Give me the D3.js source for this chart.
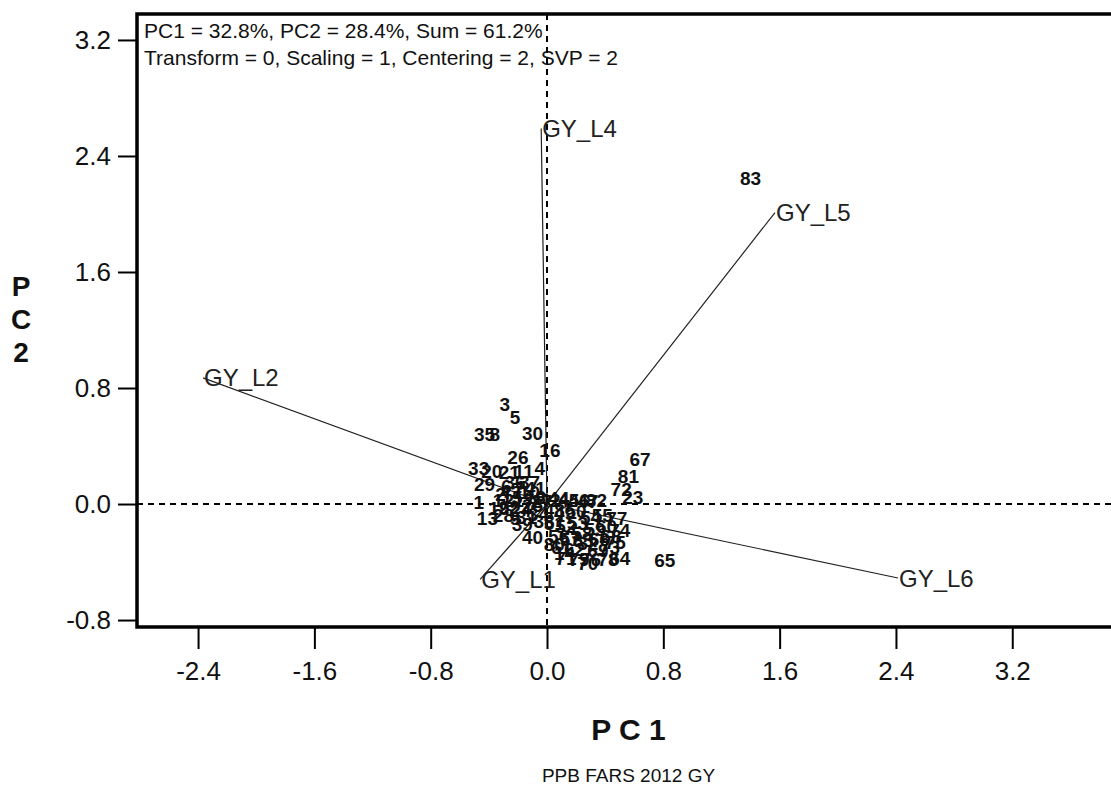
<!DOCTYPE html>
<html>
<head>
<meta charset="utf-8">
<script src="https://cdn.jsdelivr.net/npm/d3@7"></script>
<style>
  body { margin: 0; background: #fff; }
  svg { font-family: Arial, "Liberation Sans", sans-serif; }
</style>
</head>
<body>
<script>
// GGE biplot data: environments (vectors) and genotypes (labels)
var envNames = ["GY_L1", "GY_L2", "GY_L4", "GY_L5", "GY_L6"];
var envPC1 = [-0.46, -2.366, -0.04, 1.568, 2.414];
var envPC2 = [-0.52, 0.87, 2.59, 2.01, -0.51];

var genoNames = ["1","2","3","4","5","6","7","8","9","10",
  "11","12","13","14","15","16","17","18","19","20",
  "21","22","23","24","25","26","27","28","29","30",
  "31","32","33","34","35","36","37","38","39","40",
  "41","42","43","44","45","46","47","48","49","50",
  "51","52","53","54","55","56","57","58","59","60",
  "61","62","63","64","65","66","67","68","69","70",
  "71","72","73","74","75","76","77","78","79","80",
  "81","82","83"];
var genoPC1 = [-0.47, -0.32, -0.29, -0.05, -0.22, -0.28, -0.20, -0.36, -0.22, -0.12,
  -0.16, -0.30, -0.41, 0.12, -0.24, 0.02, -0.16, -0.08, -0.33, -0.38,
  -0.26, -0.26, 0.59, -0.18, -0.10, -0.20, -0.04, -0.30, -0.43, -0.10,
  -0.14, 0.28, -0.47, -0.06, -0.43, -0.22, -0.12, -0.02, -0.17, -0.10,
  -0.08, 0.02, -0.25, 0.08, 0.15, 0.22, 0.28, 0.05, 0.12, 0.20,
  0.05, 0.13, 0.21, 0.30, 0.38, 0.08, 0.16, 0.24, 0.33, 0.41,
  0.10, 0.19, 0.25, 0.50, 0.81, 0.36, 0.64, 0.44, 0.35, 0.28,
  0.13, 0.51, 0.43, 0.50, 0.47, 0.30, 0.48, 0.42, 0.22, 0.05,
  0.56, 0.34, 1.40];
var genoPC2 = [0.01, 0.07, 0.69, 0.25, 0.60, 0.12, 0.10, 0.48, -0.10, 0.08,
  0.23, 0.03, -0.10, -0.34, 0.05, 0.37, 0.03, 0.05, -0.03, 0.23,
  0.22, -0.02, 0.05, -0.04, -0.01, 0.32, 0.02, -0.08, 0.14, 0.49,
  -0.09, -0.27, 0.25, -0.07, 0.48, 0.15, 0.15, -0.12, -0.14, -0.23,
  0.11, 0.03, 0.08, 0.04, 0.03, 0.03, 0.02, -0.04, -0.06, -0.05,
  -0.13, -0.15, -0.13, -0.09, -0.08, -0.22, -0.24, -0.20, -0.17, -0.15,
  -0.30, -0.31, -0.25, -0.37, -0.39, -0.24, 0.31, -0.22, -0.32, -0.41,
  -0.37, 0.10, -0.30, -0.18, -0.26, -0.38, -0.10, -0.38, -0.38, -0.28,
  0.19, 0.03, 2.25];

var tickValues = [-2.4, -1.6, -0.8, 0.0, 0.8, 1.6, 2.4, 3.2];
var yTickValues = [-0.8, 0.0, 0.8, 1.6, 2.4, 3.2];
var headerLines = ["PC1 = 32.8%, PC2 = 28.4%, Sum = 61.2%",
  "Transform = 0, Scaling = 1, Centering = 2, SVP = 2"];

var width = 1111, height = 788;
var plotLeft = 137, plotRight = 1120, plotTop = 14, plotBottom = 627;

var svg = d3.select("body").append("svg")
    .attr("width", width)
    .attr("height", height);

svg.append("rect").attr("width", width).attr("height", height).attr("fill", "#fff");

// same units on both axes
var x = d3.scaleLinear().domain([-2.820, 3.941]).range([plotLeft, plotRight]);
var y = d3.scaleLinear().domain([-0.848, 3.379]).range([plotBottom, plotTop]);

// plain hyphen for negatives, like the original
var fmt = function(d) { return d3.format(".1f")(d).replace("\u2212", "-"); };

// dashed reference lines through origin
svg.append("line")
    .attr("x1", x(0)).attr("x2", x(0))
    .attr("y1", plotTop).attr("y2", plotBottom)
    .attr("stroke", "#000").attr("stroke-width", 2)
    .attr("stroke-dasharray", "6,5");
svg.append("line")
    .attr("x1", plotLeft).attr("x2", plotRight)
    .attr("y1", y(0)).attr("y2", y(0))
    .attr("stroke", "#000").attr("stroke-width", 2)
    .attr("stroke-dasharray", "6,5");

// environment vectors
var envData = envNames.map(function(n, i) { return {name: n, pc1: envPC1[i], pc2: envPC2[i]}; });
svg.selectAll(".env")
    .data(envData)
    .enter()
    .append("line")
    .attr("class", "env")
    .attr("x1", x(0)).attr("y1", y(0))
    .attr("x2", function(d) { return x(d.pc1); })
    .attr("y2", function(d) { return y(d.pc2); })
    .attr("stroke", "#222").attr("stroke-width", 1.2);

svg.selectAll(".envLabel")
    .data(envData)
    .enter()
    .append("text")
    .attr("class", "envLabel")
    .attr("x", function(d) { return x(d.pc1) + 1; })
    .attr("y", function(d) { return y(d.pc2); })
    .attr("dy", "0.36em")
    .attr("font-size", 24)
    .attr("fill", "#222")
    .text(function(d) { return d.name; });

// genotype labels
var genoData = genoNames.map(function(n, i) { return {name: n, pc1: genoPC1[i], pc2: genoPC2[i]}; });
svg.selectAll(".geno")
    .data(genoData)
    .enter()
    .append("text")
    .attr("class", "geno")
    .attr("x", function(d) { return x(d.pc1); })
    .attr("y", function(d) { return y(d.pc2); })
    .attr("dy", "0.36em")
    .attr("text-anchor", "middle")
    .attr("font-size", 19)
    .attr("font-weight", "bold")
    .attr("fill", "#111")
    .text(function(d) { return d.name; });

// axes
var xAxis = svg.append("g")
    .attr("transform", "translate(0," + plotBottom + ")")
    .call(d3.axisBottom(x).tickValues(tickValues).tickSize(22).tickPadding(13)
        .tickFormat(fmt));
var yAxis = svg.append("g")
    .attr("transform", "translate(" + plotLeft + ",0)")
    .call(d3.axisLeft(y).tickValues(yTickValues).tickSize(19).tickPadding(7)
        .tickFormat(fmt));
[xAxis, yAxis].forEach(function(a) {
    a.select(".domain").remove();
    a.selectAll(".tick line").attr("stroke", "#000").attr("stroke-width", 2);
    a.selectAll(".tick text").attr("font-size", 26).attr("fill", "#111")
        .attr("font-family", "Arial, 'Liberation Sans', sans-serif");
});

// frame (right side falls outside the picture)
svg.append("path")
    .attr("d", "M" + (plotRight + 20) + "," + plotTop + "H" + plotLeft + "V" + plotBottom + "H" + (plotRight + 20))
    .attr("fill", "none").attr("stroke", "#000").attr("stroke-width", 3.5);

// header
svg.selectAll(".header")
    .data(headerLines)
    .enter()
    .append("text")
    .attr("class", "header")
    .attr("x", 144)
    .attr("y", function(d, i) { return 38 + i * 27; })
    .attr("font-size", 21)
    .attr("fill", "#111")
    .text(function(d) { return d; });

// axis titles
svg.append("text")
    .attr("x", (plotLeft + plotRight) / 2).attr("y", 740)
    .attr("text-anchor", "middle")
    .attr("font-size", 30).attr("font-weight", "bold")
    .attr("fill", "#111")
    .text("P C 1");

svg.selectAll(".ytitle")
    .data(["P", "C", "2"])
    .enter()
    .append("text")
    .attr("class", "ytitle")
    .attr("x", 21)
    .attr("y", function(d, i) { return 296 + i * 33; })
    .attr("text-anchor", "middle")
    .attr("font-size", 28).attr("font-weight", "bold")
    .attr("fill", "#111")
    .text(function(d) { return d; });

svg.append("text")
    .attr("x", (plotLeft + plotRight) / 2).attr("y", 782)
    .attr("text-anchor", "middle")
    .attr("font-size", 19)
    .attr("fill", "#111")
    .text("PPB FARS 2012 GY");
</script>
</body>
</html>
